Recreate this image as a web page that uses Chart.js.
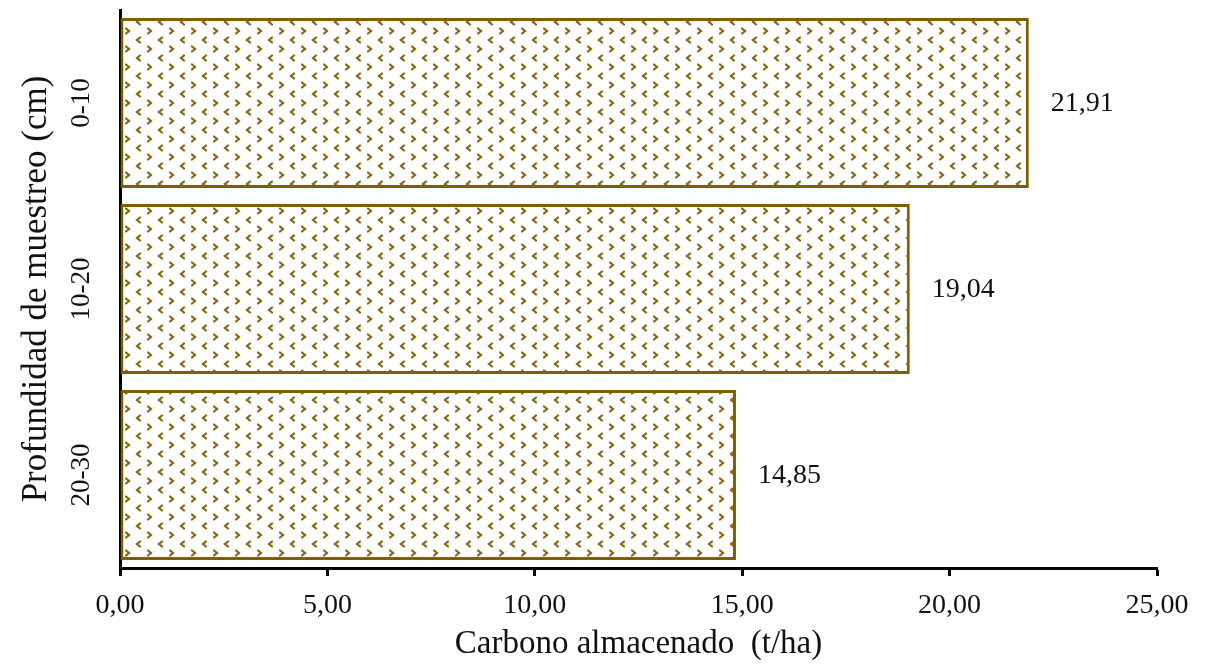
<!DOCTYPE html>
<html>
<head>
<meta charset="utf-8">
<script src="https://cdn.jsdelivr.net/npm/chart.js@4/dist/chart.umd.min.js"></script>
<style>
  html, body { margin: 0; padding: 0; background: #fff; }
  #wrap { width: 1205px; height: 668px; }
</style>
</head>
<body>
<div id="wrap"><canvas id="chart" width="1205" height="668"></canvas></div>
<script>
// depth classes and stored carbon (t/ha)
const depths = ['0-10', '10-20', '20-30'];
const carbon = [21.91, 19.04, 14.85];
const xTicks = [0, 5, 10, 15, 20, 25];

const brown = '#7f6000';
const serif = '"Liberation Serif", "Times New Roman", serif';

// small chevron fill like the excel pattern
function makePattern() {
    const c = document.createElement('canvas');
    c.width = 22; c.height = 18;
    const g = c.getContext('2d');
    g.fillStyle = '#fff';
    g.fillRect(0, 0, 22, 18);
    g.strokeStyle = '#86650f';
    g.lineWidth = 2.2;
    g.lineCap = 'round';
    // "<" mark
    g.beginPath();
    g.moveTo(8, 1.5); g.lineTo(5, 4); g.lineTo(8, 6.5);
    g.stroke();
    // ">" mark
    g.beginPath();
    g.moveTo(16, 10.5); g.lineTo(19, 13); g.lineTo(16, 15.5);
    g.stroke();
    return g.createPattern(c, 'repeat');
}

const fmt = v => v.toFixed(2).replace('.', ',');

const valueLabels = {
    id: 'valueLabels',
    afterDatasetsDraw(chart) {
        const ctx = chart.ctx;
        const meta = chart.getDatasetMeta(0);
        ctx.save();
        ctx.font = '28px ' + serif;
        ctx.fillStyle = '#111';
        ctx.textAlign = 'left';
        ctx.textBaseline = 'middle';
        meta.data.forEach((bar, i) => {
            ctx.fillText(fmt(carbon[i]), bar.x + 22, bar.y + 1);
        });
        ctx.restore();
    }
};

new Chart(document.getElementById('chart').getContext('2d'), {
    type: 'bar',
    data: {
        labels: depths,
        datasets: [{
            data: carbon,
            backgroundColor: makePattern(),
            borderColor: brown,
            borderWidth: 3,
            borderSkipped: false,
            categoryPercentage: 1,
            barPercentage: 0.915
        }]
    },
    options: {
        indexAxis: 'y',
        responsive: false,
        animation: false,
        layout: { padding: { top: 10, right: 48, left: 0, bottom: 0 } },
        plugins: {
            legend: { display: false },
            tooltip: { enabled: false }
        },
        scales: {
            x: {
                min: 0,
                max: 25,
                afterBuildTicks: axis => { axis.ticks = xTicks.map(v => ({ value: v })); },
                border: { display: true, color: '#000', width: 3 },
                grid: {
                    drawOnChartArea: false,
                    drawTicks: true,
                    tickLength: 8,
                    tickWidth: 3,
                    color: '#000'
                },
                ticks: {
                    color: '#111',
                    padding: 13,
                    font: { family: serif, size: 28 },
                    callback: v => fmt(v)
                },
                title: {
                    display: true,
                    text: 'Carbono almacenado  (t/ha)',
                    color: '#111',
                    font: { family: serif, size: 33 },
                    padding: { top: 0, bottom: 4 }
                },
                afterFit: axis => { axis.height = 100; }
            },
            y: {
                border: { display: true, color: '#000', width: 3 },
                grid: { display: false, drawTicks: false },
                ticks: {
                    color: '#111',
                    minRotation: 90,
                    maxRotation: 90,
                    crossAlign: 'center',
                    padding: 7,
                    font: { family: serif, size: 27 }
                },
                title: {
                    display: true,
                    text: 'Profundidad de muestreo (cm)',
                    color: '#111',
                    font: { family: serif, size: 35 },
                    padding: { top: 16, bottom: 0 }
                },
                afterFit: axis => {
                    axis.width = 120;
                    axis.paddingTop = 0;
                    axis.paddingBottom = 0;
                }
            }
        }
    },
    plugins: [valueLabels]
});
</script>
</body>
</html>
